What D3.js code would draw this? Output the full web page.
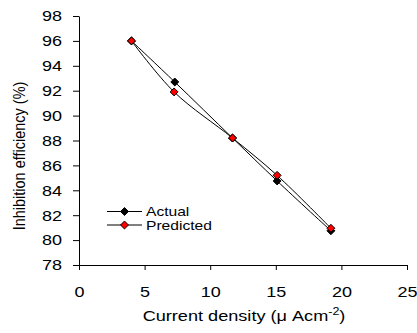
<!DOCTYPE html>
<html><head><meta charset="utf-8">
<script src="https://cdn.jsdelivr.net/npm/d3@7"></script>
<style>body{margin:0;background:#fff}svg{display:block;font-family:"Liberation Sans",Arial,sans-serif}</style>
</head><body><svg id="c" width="417" height="333"></svg>
<script>
const actualX = [4.0, 7.3, 11.7, 15.1, 19.2];
const actualY = [96.0, 92.7, 88.2, 84.75, 80.75];
const predX = [4.0, 7.25, 11.7, 15.1, 19.2];
const predY = [96.0, 91.9, 88.2, 85.2, 80.95];
const xTicks = [0, 5, 10, 15, 20, 25];
const yTicks = [78, 80, 82, 84, 86, 88, 90, 92, 94, 96, 98];
const seriesNames = ["Actual", "Predicted"];
const seriesColors = ["#000000", "#ff0000"];

const SX = 1.2; // horizontal stretch of the reference text
const svg = d3.select("#c");
const x = d3.scaleLinear().domain([0, 25]).range([79, 407]);
const y = d3.scaleLinear().domain([78, 98]).range([265, 16]);

const xAxis = svg.append("g").attr("transform", "translate(0,265)")
  .call(d3.axisBottom(x).tickValues(xTicks).tickSize(5).tickPadding(16).tickSizeOuter(0));
const yAxis = svg.append("g").attr("transform", "translate(79,0)")
  .call(d3.axisLeft(y).tickValues(yTicks).tickSize(6).tickPadding(11).tickSizeOuter(0));
[xAxis, yAxis].forEach(a => {
  a.selectAll("path,line").attr("stroke", "#000").attr("stroke-width", 1);
  a.selectAll("text").attr("fill", "#000").style("font-size", "15px")
    .style("font-family", "Liberation Sans, Arial, sans-serif");
});
yAxis.selectAll("text").attr("transform", function () {
  const tx = +d3.select(this).attr("x");
  return `translate(${tx},0) scale(${SX},1) translate(${-tx},0)`;
});
xAxis.selectAll("text").attr("transform", `scale(${SX},1)`);
xAxis.select(".domain").attr("d", "M79,0.5H407");

const series = [
  actualX.map((d, i) => [d, actualY[i]]),
  predX.map((d, i) => [d, predY[i]])
];
const line = d3.line().x(d => x(d[0])).y(d => y(d[1])).curve(d3.curveCatmullRom.alpha(0.5));
const diamond = d3.symbol().type(d3.symbolDiamond2).size(40);

series.forEach((s) => {
  svg.append("path").attr("d", line(s)).attr("fill", "none").attr("stroke", "#000").attr("stroke-width", 1);
});
series.forEach((s, k) => {
  svg.append("g").selectAll("path").data(s).join("path")
    .attr("d", diamond)
    .attr("transform", d => `translate(${x(d[0])},${y(d[1])})`)
    .attr("fill", seriesColors[k]).attr("stroke", "#000").attr("stroke-width", 1);
});

// legend
const leg = svg.append("g");
seriesNames.forEach((n, k) => {
  const ly = 211.5 + k * 13.5;
  leg.append("line").attr("x1", 107).attr("x2", 142).attr("y1", ly).attr("y2", ly).attr("stroke", "#000");
  leg.append("path").attr("d", diamond).attr("transform", `translate(124.5,${ly})`)
    .attr("fill", seriesColors[k]).attr("stroke", "#000");
  leg.append("text").attr("transform", `translate(146,${ly + 4.5}) scale(${SX},1)`).text(n).style("font-size", "13px");
});

// axis titles
const xt = svg.append("text").attr("transform", `translate(244,321) scale(1.25,1)`)
  .attr("text-anchor", "middle").style("font-size", "14.5px");
xt.append("tspan").text("Current density (μ Acm");
xt.append("tspan").text("-2").attr("dy", -6).style("font-size", "10px");
xt.append("tspan").text(")").attr("dy", 6);

svg.append("text").attr("transform", "translate(24.5,156) scale(1.2,1) rotate(-90)").attr("text-anchor", "middle")
  .style("font-size", "14.5px").text("Inhibition efficiency (%)");
</script></body></html>
